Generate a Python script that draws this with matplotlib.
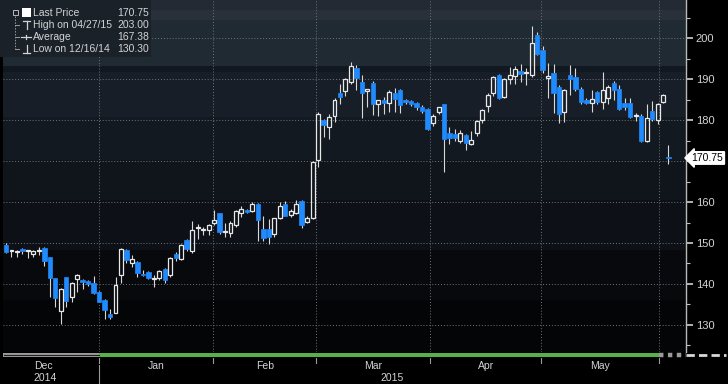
import numpy as np
import matplotlib.pyplot as plt
from matplotlib.patches import Rectangle
from matplotlib.lines import Line2D
import matplotlib.transforms as mtransforms

# ── data (one candle per trading day) ──────────────────────────────────
opens = [149.6, 148.0, 147.8, 148.5, 148.0, 147.2, 148.1, 148.7, 146.5, 141.4,
         133.4, 141.6, 136.9, 141.1, 141.0, 140.7, 140.2, 138.1, 136.1, 132.7,
         133.0, 142.2, 148.3, 145.0, 145.3, 142.5, 143.0, 141.2, 141.5, 143.6,
         142.2, 147.3, 146.0, 150.7, 148.0, 153.6, 153.2, 153.2, 154.8, 157.2,
         152.6, 152.4, 154.4, 157.4, 158.0, 157.9, 159.5, 153.3, 153.3, 152.1,
         156.0, 159.5, 156.8, 157.2, 160.3, 155.2, 156.0, 170.2, 180.0, 178.4,
         180.9, 186.5, 187.0, 189.3, 192.6, 189.3, 187.0, 189.0, 184.0, 185.0,
         184.1, 186.7, 187.3, 185.0, 184.7, 184.1, 183.3, 182.8, 179.2, 181.9,
         183.9, 176.8, 176.6, 174.8, 176.3, 174.2, 176.9, 180.0, 183.5, 186.6,
         191.0, 185.7, 190.0, 190.8, 191.9, 191.4, 190.9, 200.8, 197.0, 190.2,
         191.4, 188.1, 182.0, 191.0, 190.5, 187.7, 184.9, 184.1, 186.9, 184.5,
         185.5, 189.0, 187.7, 184.1, 184.1, 180.9, 181.0, 174.9, 182.2, 180.0,
         184.5, 170.9]
highs = [150.0, 148.3, 148.4, 148.8, 148.4, 148.2, 149.0, 149.0, 146.7, 141.5,
         139.0, 141.8, 140.5, 142.4, 141.3, 141.0, 142.0, 138.3, 136.3, 134.0,
         141.8, 148.8, 148.5, 147.0, 145.5, 143.5, 143.2, 142.2, 143.5, 143.8,
         146.5, 147.8, 149.8, 151.0, 155.4, 154.6, 154.0, 154.6, 158.0, 157.4,
         155.0, 155.3, 158.0, 159.0, 158.3, 160.0, 159.7, 156.5, 155.8, 156.2,
         160.0, 160.2, 158.2, 160.5, 160.5, 156.7, 170.0, 182.0, 180.3, 181.5,
         185.3, 188.8, 190.3, 194.2, 193.5, 191.0, 187.6, 189.5, 185.0, 185.6,
         187.4, 187.8, 187.6, 185.2, 185.0, 184.5, 183.6, 183.0, 181.6, 183.3,
         184.0, 178.4, 177.9, 177.6, 176.6, 177.4, 180.0, 182.7, 186.6, 190.8,
         191.2, 190.3, 193.0, 193.3, 193.8, 192.6, 203.0, 201.5, 198.0, 194.0,
         193.7, 188.5, 187.6, 193.5, 192.6, 188.0, 185.3, 187.3, 187.2, 191.8,
         188.6, 189.6, 188.6, 185.3, 185.3, 181.8, 181.4, 183.8, 184.6, 184.2,
         186.3, 174.0]
lows = [147.5, 146.5, 146.7, 147.2, 146.3, 146.6, 147.0, 144.5, 136.8, 134.5,
        130.3, 134.5, 135.5, 138.1, 138.8, 139.5, 137.5, 135.5, 131.4, 131.5,
        132.8, 140.2, 145.0, 144.2, 141.7, 141.9, 141.3, 139.3, 141.0, 140.3,
        141.8, 145.5, 145.8, 148.0, 147.6, 151.0, 151.9, 152.0, 154.3, 152.3,
        151.4, 151.4, 154.0, 156.4, 157.2, 157.5, 150.4, 150.5, 149.7, 151.5,
        155.8, 156.5, 156.3, 157.0, 153.7, 154.8, 155.8, 168.6, 175.9, 175.5,
        179.5, 184.0, 185.8, 188.8, 187.3, 180.4, 183.3, 181.3, 181.0, 181.5,
        182.0, 182.0, 181.7, 183.9, 183.4, 182.4, 181.8, 177.6, 178.5, 181.5,
        167.4, 174.2, 174.8, 174.5, 172.8, 173.9, 176.0, 179.4, 181.9, 185.9,
        185.2, 185.3, 188.9, 188.9, 189.4, 188.5, 190.6, 196.0, 191.4, 185.5,
        181.7, 179.2, 179.5, 186.0, 187.0, 184.0, 183.8, 182.0, 184.0, 182.8,
        183.8, 185.0, 182.4, 182.4, 180.4, 179.7, 174.7, 174.7, 179.8, 179.0,
        184.2, 169.2]
closes = [147.8, 148.2, 148.1, 148.0, 148.2, 148.1, 148.3, 145.7, 141.4, 136.5,
          138.7, 135.9, 140.3, 142.1, 140.4, 140.0, 137.7, 135.7, 133.7, 132.0,
          139.8, 148.5, 145.8, 146.2, 142.6, 142.1, 141.5, 141.5, 143.2, 141.0,
          146.3, 146.3, 149.5, 148.5, 153.2, 153.8, 153.5, 154.4, 155.6, 152.6,
          152.9, 155.0, 157.7, 158.2, 157.6, 159.5, 155.5, 151.2, 151.5, 156.0,
          159.0, 156.7, 157.8, 159.5, 154.4, 156.0, 169.8, 181.6, 178.8, 180.8,
          185.0, 185.7, 190.0, 193.2, 190.2, 186.7, 187.5, 184.0, 184.9, 184.1,
          186.8, 185.1, 183.7, 184.3, 183.8, 183.1, 182.1, 177.9, 181.0, 183.1,
          175.3, 175.6, 175.7, 176.8, 174.3, 175.2, 179.8, 182.4, 186.1, 190.6,
          185.5, 190.0, 191.0, 192.4, 191.3, 191.7, 198.7, 196.2, 192.3, 190.7,
          186.6, 181.6, 187.3, 190.0, 187.5, 184.5, 184.2, 185.1, 184.5, 187.3,
          188.1, 187.4, 182.8, 183.3, 180.8, 181.1, 174.9, 180.6, 180.2, 183.8,
          186.1, 170.75]

month_names = ['Dec', 'Jan', 'Feb', 'Mar', 'Apr', 'May']
# candle index where Dec, Jan, Feb, Mar, Apr, May, Jun begin
month_starts = [-3.5, 17.0, 37.8, 56.7, 77.5, 97.8, 119.2]
year_names = ['2014', '2015']
price_ticks = [130, 140, 150, 160, 170, 180, 190, 200]
legend_labels = ['Last Price', 'High on 04/27/15', 'Average', 'Low on 12/16/14']
legend_values = ['170.75', '203.00', '167.38', '130.30']
last_price = 170.75

# ── style ───────────────────────────────────────────
W, H = 728, 384
BLUE = '#1f8bff'
TXT = '#d2d4d6'
GRID = '#6d757d'
plt.rcParams['font.family'] = ['Liberation Sans', 'DejaVu Sans']

def fx(x):
    return x / W

def fy(y):
    return 1 - y / H

fig = plt.figure(figsize=(W / 100, H / 100), dpi=100, facecolor='black')
ax = fig.add_axes([fx(3), fy(352), fx(683), 352 / H])
ax.set_xlim(-0.55, 124.2)
ax.set_ylim(123.4, 209.3)

# banded background (price ranges)
bands = [(206.8, 209.3, '#232a33'), (204.4, 206.8, '#293039'), (193.2, 204.4, '#202a33'),
         (191.7, 193.2, '#121820'), (180.7, 191.7, '#171e27'), (170.2, 180.7, '#131920'),
         (160.5, 170.2, '#10151c'), (148.3, 160.5, '#0d1117'), (136.1, 148.3, '#08090d'),
         (123.4, 136.1, '#040506')]
for lo, hi, c in bands:
    ax.axhspan(lo, hi, color=c, lw=0, zorder=0)

# grid
for p in price_ticks:
    ax.axhline(p, color=GRID, lw=0.7, ls=(0, (1, 2)), zorder=1)
for m in month_starts[1:]:
    ax.axvline(m, color=GRID, lw=0.7, ls=(0, (1, 2)), zorder=1)

# candles
o = np.array(opens)
h = np.array(highs)
l = np.array(lows)
c = np.array(closes)
idx = np.arange(len(o))
top = np.maximum(o, c)
bot = np.minimum(o, c)
up = c >= o
body = np.maximum(top - bot, 0.25)

ax.vlines(idx, top, h, color='#d8d8d8', lw=0.8, zorder=2)
ax.vlines(idx, l, bot, color='#d8d8d8', lw=0.8, zorder=2)
ax.bar(idx[~up], body[~up], bottom=bot[~up], width=0.8, color=BLUE, edgecolor=BLUE,
       lw=0.5, zorder=3)
ax.bar(idx[up], body[up], bottom=bot[up], width=0.72, facecolor='none', edgecolor='#e8e8e8',
       lw=0.9, zorder=3)

# axes cosmetics
for s in ['top', 'left', 'bottom']:
    ax.spines[s].set_visible(False)
ax.spines['right'].set_color('#b8b8b8')
ax.spines['right'].set_linewidth(1.0)
ax.yaxis.tick_right()
ax.set_yticks(price_ticks)
# the last-price tag sits where the 170 label would be
ax.set_yticklabels(['' if abs(p - last_price) < 3 else str(p) for p in price_ticks])
ax.set_yticks([p + 5 for p in price_ticks[:-1]] + [125, 205], minor=True)
ax.tick_params(axis='y', which='major', colors='#c0c0c0', labelcolor=TXT, labelsize=8,
               length=5, width=1.3, pad=2)
ax.tick_params(axis='y', which='minor', colors='#c0c0c0', length=3, width=0.8)
ax.set_xticks([])

# last price tag
tr = mtransforms.blended_transform_factory(ax.transAxes, ax.transData)
ax.text(1.008, last_price, f'{last_price:.2f}', transform=tr, ha='left', va='center',
        fontsize=7.5, color='black', zorder=6,
        bbox=dict(boxstyle='larrow,pad=0.12', fc='white', ec='white'))

# bottom time bar
xt = ax.get_xaxis_transform()
ax.add_patch(Rectangle((-0.55, -0.0145), month_starts[1] + 0.55, 0.0115, transform=xt,
                       fc='#9a9a9a', ec='none', clip_on=False))
ax.plot([-0.3, month_starts[1]], [-0.0088, -0.0088], transform=xt, color='#202020',
        lw=0.8, clip_on=False)
ax.add_patch(Rectangle((month_starts[1], -0.0145), month_starts[-1] - month_starts[1], 0.0115,
                       transform=xt, fc='#58b04a', ec='none', clip_on=False))
ax.plot([month_starts[-1], 124.2], [-0.0088, -0.0088], transform=xt, color='#9a9a9a',
        lw=3.2, ls=(0, (1, 1)), clip_on=False)
fig.add_artist(Line2D([fx(686), fx(726)], [fy(355), fy(355)], color='#d8d8d8', lw=2,
                      ls=(0, (3, 1.5))))

for m in month_starts[1:]:
    ax.plot([m, m], [-0.016, -0.03], transform=xt, color='#9a9a9a', lw=0.8, clip_on=False)
ax.plot([month_starts[1]] * 2, [-0.038, -0.095], transform=xt, color='#9a9a9a', lw=0.8,
        clip_on=False)

for i, name in enumerate(month_names):
    mid = (month_starts[i] + month_starts[i + 1]) / 2
    ax.text(mid, -0.04, name, transform=xt, ha='center', va='center', fontsize=7.5,
            color=TXT)
ax.text((month_starts[0] + month_starts[1]) / 2 + 0.4, -0.074, year_names[0], transform=xt,
        ha='center', va='center', fontsize=7.5, color=TXT)
ax.text((month_starts[1] + 124.2) / 2, -0.074, year_names[1], transform=xt,
        ha='center', va='center', fontsize=7.5, color=TXT)

# legend panel
fig.add_artist(Rectangle((0, fy(57)), fx(151), 57 / H, transform=fig.transFigure,
                         fc='#1b2129', ec='none'))
row_y = [12.7, 25.0, 36.7, 49.3]
for lab, val, yy in zip(legend_labels, legend_values, row_y):
    fig.text(fx(33), fy(yy), lab, ha='left', va='center', fontsize=7.5, color=TXT)
    fig.text(fx(149), fy(yy), val, ha='right', va='center', fontsize=7.5, color=TXT)

# tree + glyphs
fig.add_artist(Rectangle((fx(12.5), fy(15)), fx(5), 5 / H, transform=fig.transFigure,
                         fc='none', ec='#bbbbbb', lw=0.7))
fig.add_artist(Line2D([fx(15), fx(15)], [fy(16), fy(49.3)], color='#999999', lw=0.7,
                      ls=(0, (1.5, 1.5))))
for yy in row_y[1:]:
    fig.add_artist(Line2D([fx(15), fx(19)], [fy(yy), fy(yy)], color='#999999', lw=0.7))
fig.add_artist(Rectangle((fx(21.5), fy(17)), fx(9), 9 / H, transform=fig.transFigure,
                         fc='white', ec='none'))
fig.add_artist(Line2D([fx(23), fx(30)], [fy(21), fy(21)], color=TXT, lw=0.9))
fig.add_artist(Line2D([fx(26.5), fx(26.5)], [fy(21), fy(29)], color=TXT, lw=0.9))
fig.add_artist(Line2D([fx(21), fx(31)], [fy(36.7), fy(36.7)], color=TXT, lw=0.9))
fig.add_artist(Line2D([fx(26), fx(26)], [fy(34.5), fy(39)], color=TXT, lw=0.9))
fig.add_artist(Line2D([fx(23), fx(30)], [fy(53), fy(53)], color=TXT, lw=0.9))
fig.add_artist(Line2D([fx(26.5), fx(26.5)], [fy(45), fy(53)], color=TXT, lw=0.9))

fig.savefig('out.png', dpi=100, facecolor='black')
